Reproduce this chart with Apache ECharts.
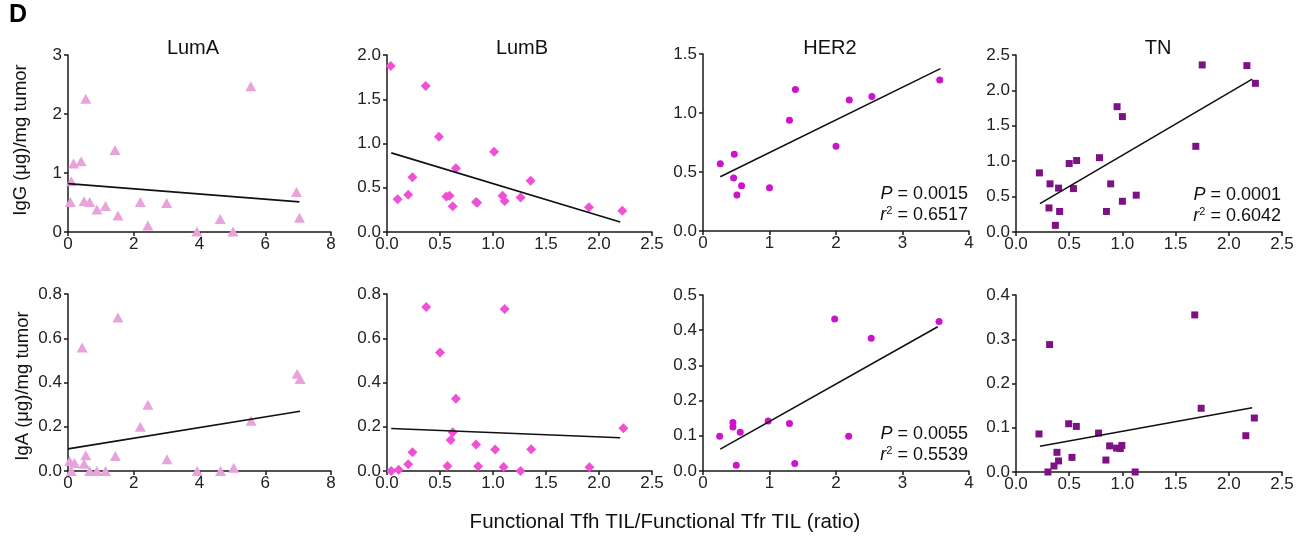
<!DOCTYPE html>
<html>
<head>
<meta charset="utf-8">
<script src="https://cdn.jsdelivr.net/npm/echarts@6/dist/echarts.min.js"></script>
<style>
html,body{margin:0;padding:0;background:#fff;}
#c{width:1305px;height:536px;}
</style>
</head>
<body>
<div id="c"></div>
<script>
// ---- data ----
const subtypes = ['LumA', 'LumB', 'HER2', 'TN'];
const rowNames = ['IgG (μg)/mg tumor', 'IgA (μg)/mg tumor'];
const xAxisTitle = 'Functional Tfh TIL/Functional Tfr TIL (ratio)';

const lumA_IgG = [[0.07,0.51],[0.10,0.86],[0.17,1.16],[0.40,1.20],[0.54,2.26],[0.49,0.52],[0.66,0.51],[0.88,0.38],[1.14,0.44],[1.43,1.39],[1.52,0.28],[2.20,0.51],[2.43,0.11],[3.00,0.49],[3.92,0.01],[4.63,0.22],[5.02,0.01],[5.56,2.47],[6.95,0.68],[7.04,0.24]];
const lumA_IgA = [[0.05,0.045],[0.20,0.036],[0.10,0.0],[0.43,0.558],[0.54,0.071],[0.49,0.033],[0.66,0.0],[0.88,0.0],[1.14,0.0],[1.44,0.068],[1.52,0.694],[2.20,0.20],[2.43,0.30],[3.01,0.053],[3.93,0.0],[4.64,0.0],[5.04,0.015],[5.57,0.227],[6.97,0.44],[7.06,0.416]];
const lumB_IgG = [[0.035,1.875],[0.10,0.37],[0.20,0.42],[0.24,0.62],[0.365,1.65],[0.49,1.075],[0.56,0.40],[0.59,0.41],[0.62,0.29],[0.65,0.72],[0.84,0.34],[0.85,0.33],[1.01,0.906],[1.09,0.41],[1.11,0.35],[1.26,0.39],[1.355,0.58],[1.905,0.28],[2.22,0.24]];
const lumB_IgA = [[0.04,0.0],[0.11,0.006],[0.20,0.03],[0.24,0.085],[0.37,0.741],[0.50,0.536],[0.57,0.023],[0.60,0.14],[0.62,0.175],[0.65,0.326],[0.84,0.12],[0.86,0.021],[1.02,0.097],[1.11,0.732],[1.10,0.018],[1.26,0.0],[1.36,0.098],[1.91,0.017],[2.23,0.193]];
const her2_IgG = [[0.26,0.57],[0.47,0.65],[0.46,0.45],[0.51,0.305],[0.58,0.384],[1.00,0.367],[1.30,0.938],[1.39,1.20],[2.00,0.718],[2.20,1.11],[2.54,1.14],[3.56,1.28]];
const her2_IgA = [[0.25,0.099],[0.45,0.138],[0.45,0.125],[0.56,0.11],[0.50,0.016],[0.98,0.142],[1.30,0.135],[1.38,0.021],[1.98,0.432],[2.19,0.099],[2.53,0.377],[3.55,0.425]];
const tn_IgG = [[0.22,0.835],[0.32,0.68],[0.31,0.34],[0.37,0.094],[0.40,0.62],[0.41,0.29],[0.50,0.967],[0.54,0.613],[0.57,1.01],[0.785,1.05],[0.85,0.29],[0.89,0.68],[0.95,1.77],[1.00,1.63],[1.00,0.434],[1.13,0.52],[1.69,1.21],[1.75,2.36],[2.17,2.35],[2.25,2.10]];
const tn_IgA = [[0.216,0.086],[0.316,0.288],[0.30,0.0],[0.357,0.0136],[0.385,0.0445],[0.40,0.025],[0.495,0.109],[0.526,0.033],[0.567,0.103],[0.776,0.088],[0.845,0.027],[0.88,0.059],[0.945,0.054],[0.98,0.053],[0.995,0.06],[1.12,0.0],[1.68,0.355],[1.74,0.144],[2.16,0.082],[2.24,0.122]];

const fit_lumA_IgG = [[0,0.82],[7.04,0.51]];
const fit_lumA_IgA = [[0,0.10],[7.06,0.27]];
const fit_lumB_IgG = [[0.04,0.894],[2.20,0.113]];
const fit_lumB_IgA = [[0.04,0.192],[2.20,0.150]];
const fit_her2_IgG = [[0.26,0.46],[3.57,1.376]];
const fit_her2_IgA = [[0.26,0.062],[3.53,0.41]];
const fit_tn_IgG = [[0.225,0.40],[2.22,2.16]];
const fit_tn_IgA = [[0.225,0.058],[2.22,0.145]];

const xMax = [8, 2.5, 4, 2.5];
const xStep = [2, 0.5, 1, 0.5];
const yMaxIgG = [3, 2.0, 1.5, 2.5];
const yStepIgG = [1, 0.5, 0.5, 0.5];
const yMaxIgA = [0.8, 0.8, 0.5, 0.4];
const yStepIgA = [0.2, 0.2, 0.1, 0.1];
const xDecimals = [0, 1, 0, 1];
const yDecimalsIgG = [0, 1, 1, 1];
const yDecimalsIgA = [1, 1, 1, 1];

const stats = [
  {panel: 2, P: '0.0015', r2: '0.6517'},
  {panel: 3, P: '0.0001', r2: '0.6042'},
  {panel: 6, P: '0.0055', r2: '0.5539'}
];

// ---- styling / layout ----
const FONT = "'Liberation Sans', Arial, sans-serif";
const markers = [
  {symbol: 'triangle', size: [11, 10], color: '#E8A2DC'},
  {symbol: 'diamond', size: [10, 10], color: '#F050D6'},
  {symbol: 'circle', size: 7, color: '#CC14CC'},
  {symbol: 'rect', size: 7, color: '#7D1285'}
];
const grids = [
  {left: 68, top: 55, width: 263, height: 177},
  {left: 387, top: 55, width: 265, height: 177},
  {left: 703, top: 54, width: 266, height: 177},
  {left: 1016, top: 55, width: 266, height: 177},
  {left: 68, top: 294, width: 263, height: 177},
  {left: 387, top: 294, width: 265, height: 177},
  {left: 703, top: 295, width: 266, height: 176},
  {left: 1016, top: 295, width: 266, height: 177}
];
const titleX = [193, 522, 830, 1158];

const scatterData = [lumA_IgG, lumB_IgG, her2_IgG, tn_IgG, lumA_IgA, lumB_IgA, her2_IgA, tn_IgA];
const fitData = [fit_lumA_IgG, fit_lumB_IgG, fit_her2_IgG, fit_tn_IgG, fit_lumA_IgA, fit_lumB_IgA, fit_her2_IgA, fit_tn_IgA];

const axisCommon = {
  axisLine: {show: true, onZero: false, lineStyle: {color: '#1a1a1a', width: 1.5}},
  axisTick: {show: true, inside: false, length: 4, lineStyle: {color: '#1a1a1a', width: 1.5}},
  splitLine: {show: false},
  axisLabel: {color: '#222', fontSize: 17, fontFamily: FONT, margin: 5, showMaxLabel: true, showMinLabel: true}
};

const xAxes = [], yAxes = [], series = [];
for (let i = 0; i < 8; i++) {
  const col = i % 4, row = Math.floor(i / 4);
  const xd = xDecimals[col];
  xAxes.push(Object.assign({}, axisCommon, {
    type: 'value', gridIndex: i, min: 0, max: xMax[col], interval: xStep[col],
    axisLabel: Object.assign({}, axisCommon.axisLabel, {margin: 4, formatter: v => v.toFixed(xd)})
  }));
  const ymax = row === 0 ? yMaxIgG[col] : yMaxIgA[col];
  const ystep = row === 0 ? yStepIgG[col] : yStepIgA[col];
  const yd = row === 0 ? yDecimalsIgG[col] : yDecimalsIgA[col];
  yAxes.push(Object.assign({}, axisCommon, {
    type: 'value', gridIndex: i, min: 0, max: ymax, interval: ystep,
    axisLabel: Object.assign({}, axisCommon.axisLabel, {margin: 6, formatter: v => v.toFixed(yd)})
  }));
  series.push({
    type: 'scatter', xAxisIndex: i, yAxisIndex: i, data: scatterData[i],
    symbol: markers[col].symbol, symbolSize: markers[col].size,
    itemStyle: {color: markers[col].color, opacity: 1}, z: 2, silent: true
  });
  series.push({
    type: 'line', xAxisIndex: i, yAxisIndex: i, data: fitData[i],
    symbol: 'none', lineStyle: {color: '#111', width: 1.6}, z: 3, silent: true, animation: false
  });
}

const graphics = [];
graphics.push({type: 'text', left: 9, top: 3, style: {text: 'D', font: "bold 25px " + FONT, fill: '#000'}});
subtypes.forEach((s, k) => {
  graphics.push({type: 'text', x: titleX[k], y: 48, style: {text: s, font: "20px " + FONT, fill: '#111', textAlign: 'center', textVerticalAlign: 'middle'}});
});
graphics.push({type: 'text', x: 21, y: 140, rotation: Math.PI / 2, style: {text: rowNames[0], font: "18.5px " + FONT, fill: '#111', textAlign: 'center', textVerticalAlign: 'middle'}});
graphics.push({type: 'text', x: 23, y: 386, rotation: Math.PI / 2, style: {text: rowNames[1], font: "18.5px " + FONT, fill: '#111', textAlign: 'center', textVerticalAlign: 'middle'}});
graphics.push({type: 'text', x: 665, y: 522, style: {text: xAxisTitle, font: "20.5px " + FONT, fill: '#111', textAlign: 'center', textVerticalAlign: 'middle'}});
stats.forEach(st => {
  const g = grids[st.panel];
  const rx = g.left + g.width - 1;
  const by = g.top + g.height;
  graphics.push({type: 'text', x: rx, y: by - 37, style: {
    text: '{i|P} = ' + st.P, textAlign: 'right', textVerticalAlign: 'middle',
    font: "18px " + FONT, fill: '#111',
    rich: {i: {fontStyle: 'italic', fontSize: 18, fontFamily: FONT, fill: '#111'}}
  }});
  graphics.push({type: 'text', x: rx, y: by - 16, style: {
    text: '{i|r}{s|2} = ' + st.r2, textAlign: 'right', textVerticalAlign: 'middle',
    font: "18px " + FONT, fill: '#111',
    rich: {i: {fontStyle: 'italic', fontSize: 18, fontFamily: FONT, fill: '#111'},
           s: {fontSize: 11, fontFamily: FONT, fill: '#111', padding: [0, 0, 8, 0]}}
  }});
});

const chart = echarts.init(document.getElementById('c'), null, {renderer: 'canvas'});
chart.setOption({
  animation: false,
  backgroundColor: '#fff',
  textStyle: {fontFamily: FONT},
  grid: grids,
  xAxis: xAxes,
  yAxis: yAxes,
  series: series,
  graphic: graphics
});
</script>
</body>
</html>
